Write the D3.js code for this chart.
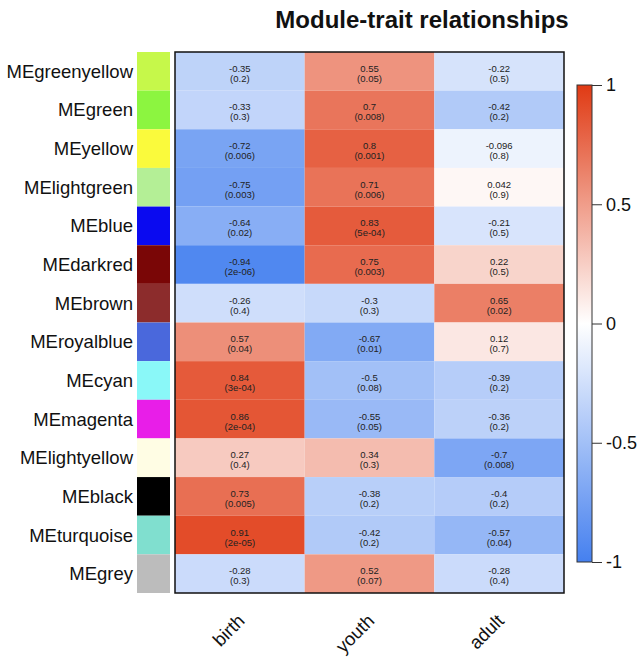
<!DOCTYPE html>
<html><head><meta charset="utf-8">
<script src="https://cdn.jsdelivr.net/npm/d3@7"></script>
<style>body{margin:0;background:#fff;}svg{display:block;font-family:Arial,"Liberation Sans",sans-serif;}</style>
</head><body><svg id="c" width="644" height="664"></svg>
<script>
const modules = ["MEgreenyellow","MEgreen","MEyellow","MElightgreen","MEblue","MEdarkred","MEbrown","MEroyalblue","MEcyan","MEmagenta","MElightyellow","MEblack","MEturquoise","MEgrey"];
const moduleColors = ["#c6f84a","#8cf540","#fafa3c","#b4ef96","#0a0af0","#7a0606","#8c2c2c","#4a68dc","#8af8f8","#e81ee8","#fffde4","#000000","#80dfcf","#bcbcbc"];
const traits = ["birth","youth","adult"];
const corBirth = [-0.35,-0.33,-0.72,-0.75,-0.64,-0.94,-0.26,0.57,0.84,0.86,0.27,0.73,0.91,-0.28];
const pBirth = ["0.2","0.3","0.006","0.003","0.02","2e-06","0.4","0.04","3e-04","2e-04","0.4","0.005","2e-05","0.3"];
const corYouth = [0.55,0.7,0.8,0.71,0.83,0.75,-0.3,-0.67,-0.5,-0.55,0.34,-0.38,-0.42,0.52];
const pYouth = ["0.05","0.008","0.001","0.006","5e-04","0.003","0.3","0.01","0.08","0.05","0.3","0.2","0.2","0.07"];
const corAdult = [-0.22,-0.42,-0.096,0.042,-0.21,0.22,0.65,0.12,-0.39,-0.36,-0.7,-0.4,-0.57,-0.28];
const pAdult = ["0.5","0.2","0.8","0.9","0.5","0.5","0.02","0.7","0.2","0.2","0.008","0.2","0.04","0.4"];
const legendTicks = [1,0.5,0,-0.5,-1];
const title = "Module-trait relationships";

const corCols = [corBirth, corYouth, corAdult];
const pCols = [pBirth, pYouth, pAdult];
const cells = [];
modules.forEach((m,i)=>traits.forEach((t,j)=>cells.push({m,t,v:corCols[j][i],p:pCols[j][i]})));

const svg = d3.select("#c");
const L=175, R=564, T=52, B=593;
const x = d3.scaleBand().domain(traits).range([L,R]);
const y = d3.scaleBand().domain(modules).range([T,B]);
const color = d3.scaleLinear().domain([-1,0,1]).range(["#4580ef","#ffffff","#e03a14"]);

// title
svg.append("text").attr("x",422).attr("y",28).attr("text-anchor","middle")
  .attr("font-size",24).attr("font-weight","bold").attr("fill","#111").text(title);

// cells
svg.append("g").selectAll("rect").data(cells).join("rect")
  .attr("x",d=>x(d.t)).attr("y",d=>y(d.m)).attr("width",x.bandwidth()).attr("height",y.bandwidth())
  .attr("fill",d=>color(d.v));
const tg = svg.append("g").attr("font-size",9.5).attr("fill","#222").attr("text-anchor","middle");
tg.selectAll("text.v").data(cells).join("text").attr("class","v")
  .attr("x",d=>x(d.t)+x.bandwidth()/2).attr("y",d=>y(d.m)+y.bandwidth()/2+0.5).text(d=>String(d.v));
tg.selectAll("text.p").data(cells).join("text").attr("class","p")
  .attr("x",d=>x(d.t)+x.bandwidth()/2).attr("y",d=>y(d.m)+y.bandwidth()/2+10.5).text(d=>"("+d.p+")");
svg.append("rect").attr("x",L).attr("y",T).attr("width",R-L).attr("height",B-T)
  .attr("fill","none").attr("stroke","#111").attr("stroke-width",1.5);

// module swatches
svg.append("g").selectAll("rect").data(modules).join("rect")
  .attr("x",137).attr("y",d=>y(d)).attr("width",33).attr("height",y.bandwidth())
  .attr("fill",(d,i)=>moduleColors[i]);
svg.append("g").attr("font-size",18.5).attr("fill","#111").attr("text-anchor","end")
  .selectAll("text").data(modules).join("text")
  .attr("x",133).attr("y",d=>y(d)+y.bandwidth()/2+6.5).text(d=>d);

// column labels
svg.append("g").attr("font-size",18.5).attr("fill","#111").attr("text-anchor","end")
  .selectAll("text").data(traits).join("text")
  .attr("transform",d=>`translate(${x(d)+x.bandwidth()/2+6},${622}) rotate(-45)`).text(d=>d);

// legend
const cbL=577, cbW=15, cbT=85, cbB=562;
const ly = d3.scaleLinear().domain([-1,1]).range([cbB,cbT]);
const defs = svg.append("defs");
const grad = defs.append("linearGradient").attr("id","g").attr("x1",0).attr("y1",1).attr("x2",0).attr("y2",0);
d3.range(-1,1.001,0.1).forEach(v=>grad.append("stop").attr("offset",(v+1)/2).attr("stop-color",color(v)));
svg.append("rect").attr("x",cbL).attr("y",cbT).attr("width",cbW).attr("height",cbB-cbT)
  .attr("fill","url(#g)").attr("stroke","#333").attr("stroke-width",1);
const ax = svg.append("g").attr("transform",`translate(${cbL+cbW},0)`)
  .call(d3.axisRight(ly).tickValues(legendTicks).tickSize(10).tickPadding(4).tickFormat(d=>String(d)));
ax.select(".domain").remove();
ax.selectAll("line").attr("stroke","#333");
ax.selectAll("text").attr("font-size",18).attr("fill","#111").attr("font-family",'Arial,"Liberation Sans",sans-serif');
</script></body></html>
